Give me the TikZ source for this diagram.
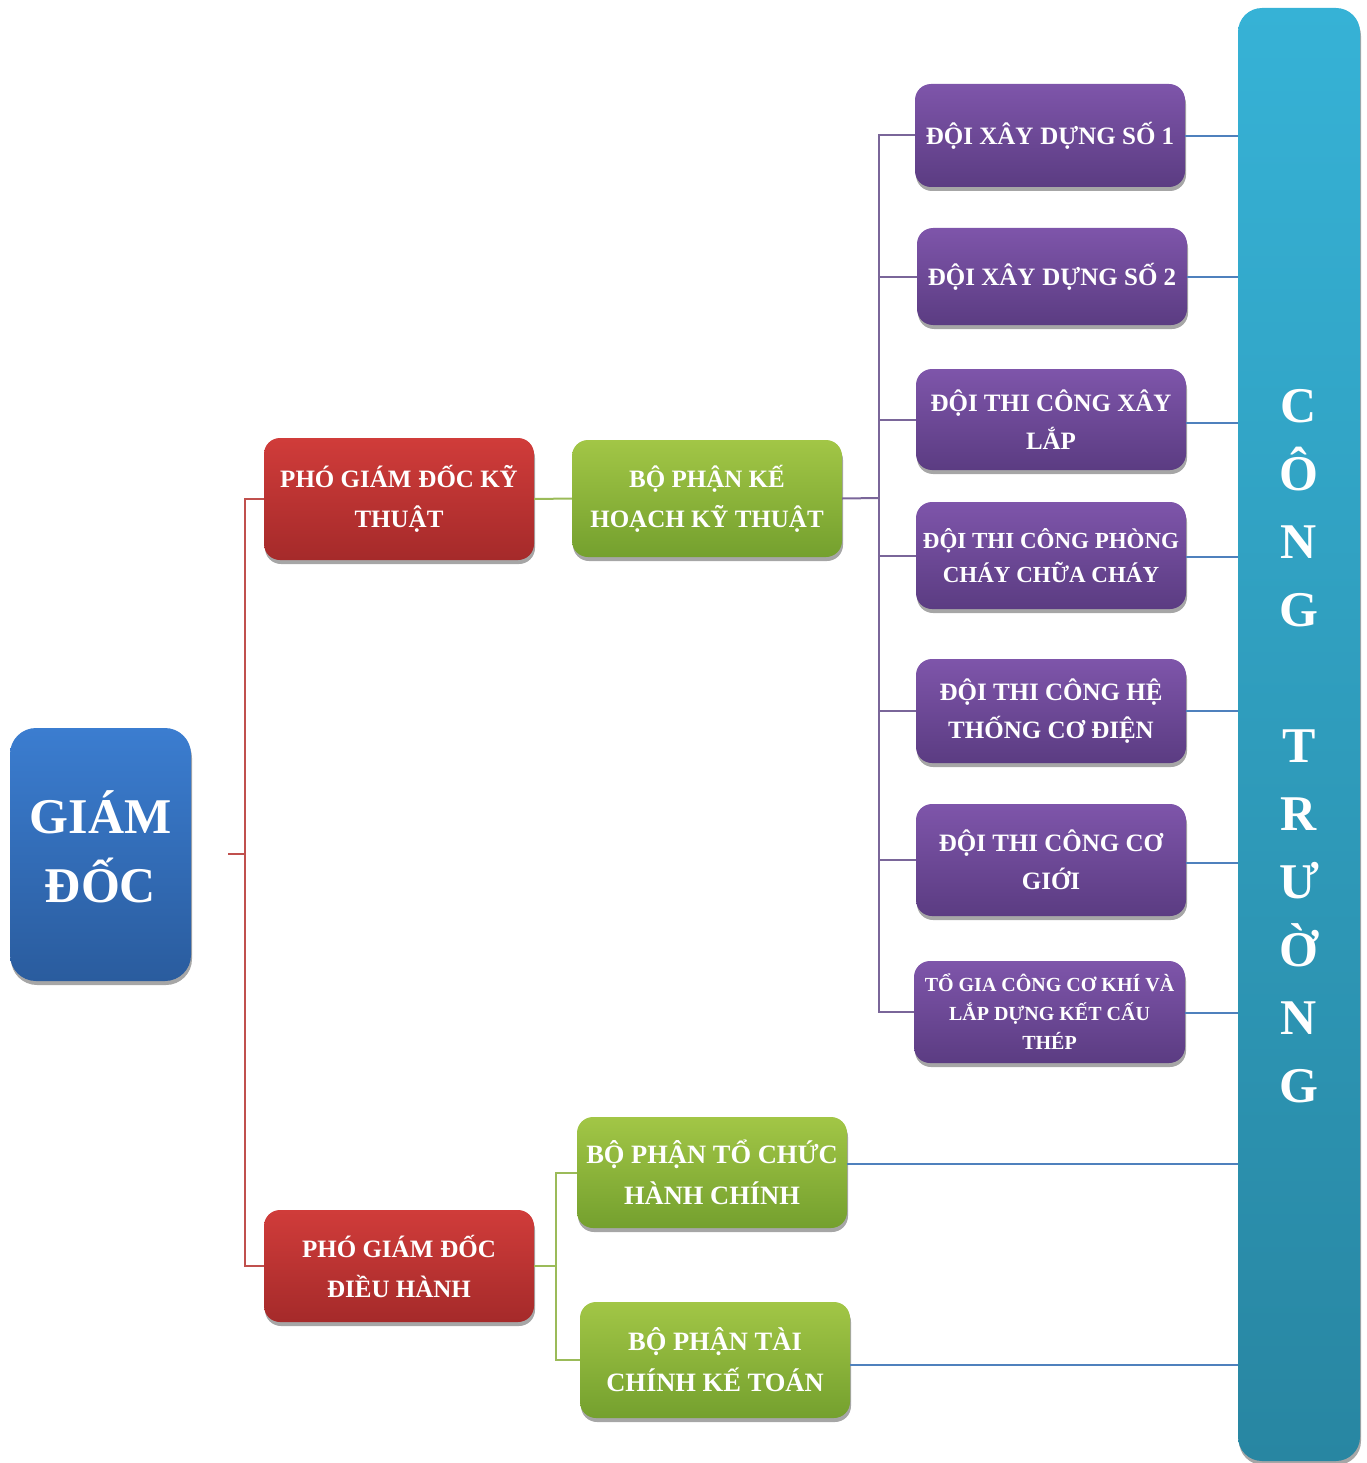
\documentclass[tikz,border=0pt]{standalone}
\usepackage{fontspec}
\setmainfont{Liberation Serif}
\usetikzlibrary{shadows,calc}
\definecolor{gdtop}{HTML}{3B7DD0}
\definecolor{gdbot}{HTML}{2A5C9E}
\definecolor{rtop}{HTML}{D03C3A}
\definecolor{rbot}{HTML}{A52A2A}
\definecolor{gtop}{HTML}{A2C646}
\definecolor{gbot}{HTML}{74A02E}
\definecolor{ptop}{HTML}{7E55AA}
\definecolor{pbot}{HTML}{5B3C82}
\definecolor{ctop}{HTML}{36B2D6}
\definecolor{cbot}{HTML}{2886A2}
\definecolor{redln}{HTML}{C0504D}
\definecolor{grnln}{HTML}{9BBB59}
\definecolor{purln}{HTML}{7A6699}
\definecolor{bluln}{HTML}{4F81BD}
\newcommand{\dsp}{\hspace{7pt}}
\begin{document}
\begin{tikzpicture}[x=1pt,y=-1pt,
  box/.style={rounded corners=16pt, align=center, text=white, inner sep=0pt,
    minimum width=270pt,
    drop shadow={shadow xshift=1pt, shadow yshift=-4pt, opacity=0.35, fill=black},
    font=\bfseries\fontsize{25}{40}\selectfont},
  redbox/.style={box, top color=rtop, bottom color=rbot},
  grnbox/.style={box, top color=gtop, bottom color=gbot},
  purbox/.style={box, top color=ptop, bottom color=pbot, font=\bfseries\fontsize{25}{38}\selectfont},
  conn/.style={line width=2pt},
]
\useasboundingbox (0,0) rectangle (1366,1463);

% main boxes
\node[box, top color=gdtop, bottom color=gdbot, rounded corners=26pt,
      minimum width=181pt, minimum height=253pt,
      font=\bfseries\fontsize{50}{69}\selectfont] (gd) at (100.5,854.5)
      {\raisebox{6pt}{\begin{tabular}{@{}c@{}}GIÁM\\ĐỐC\end{tabular}}};

\node[redbox, minimum height=122pt] (pgdkt) at (399,499) {PHÓ GIÁM\dsp ĐỐC KỸ\\THUẬT};
\node[grnbox, minimum height=117pt] (bpkh) at (707,498.5) {BỘ PHẬN KẾ\\HOẠCH KỸ THUẬT};

\node[purbox, minimum height=103pt] (p1) at (1050,135.5) {ĐỘI XÂY\dsp DỰNG SỐ 1};
\node[purbox, minimum height=97pt] (p2) at (1052,276.5) {ĐỘI XÂY\dsp DỰNG SỐ 2};
\node[purbox, minimum height=101pt] (p3) at (1051,419.5) {ĐỘI THI CÔNG XÂY\\LẮP};
\node[purbox, minimum height=107pt, font=\bfseries\fontsize{23}{34}\selectfont] (p4) at (1051,555.5) {ĐỘI THI CÔNG PHÒNG\\CHÁY CHỮA CHÁY};
\node[purbox, minimum height=104pt] (p5) at (1051,711) {ĐỘI THI CÔNG HỆ\\THỐNG CƠ ĐIỆN};
\node[purbox, minimum height=112pt] (p6) at (1051,860) {ĐỘI THI CÔNG CƠ\\GIỚI};
\node[purbox, minimum height=102pt, minimum width=271pt, font=\bfseries\fontsize{20}{29}\selectfont] (p7) at (1049.5,1012) {TỔ GIA CÔNG CƠ KHÍ VÀ\\LẮP DỰNG KẾT CẤU\\THÉP};

\node[redbox, minimum height=112pt] (pgddh) at (399,1266) {PHÓ GIÁM\dsp ĐỐC\\ĐIỀU HÀNH};
\node[grnbox, minimum height=111pt, font=\bfseries\fontsize{26.5}{41}\selectfont] (bptc) at (712,1172.5) {BỘ PHẬN TỔ CHỨC\\HÀNH CHÍNH};
\node[grnbox, minimum height=116pt, font=\bfseries\fontsize{26.5}{41}\selectfont] (bptk) at (715,1360) {BỘ PHẬN TÀI\\CHÍNH KẾ TOÁN};

\node[box, top color=ctop, bottom color=cbot, rounded corners=24pt,
      minimum width=122pt, minimum height=1453pt,
      font=\bfseries\fontsize{50}{68}\selectfont] (ct) at (1299,734.5)
      {\raisebox{-21pt}[0pt][0pt]{\begin{tabular}{@{}c@{}}C\\Ô\\N\\G\\[68pt]T\\R\\Ư\\Ờ\\N\\G\end{tabular}}};

% red connectors
\coordinate (gdstub) at (228,854);
\coordinate (rt) at (245,854);
\draw[conn, redln] (gdstub) -- (rt);
\draw[conn, redln] (rt) |- (pgdkt.west);
\draw[conn, redln] (rt) |- (pgddh.west);

% green connectors
\draw[conn, grnln] (pgdkt.east) -- (bpkh.west);
\coordinate (gt) at (556,1266);
\draw[conn, grnln] (pgddh.east) -- (gt);
\draw[conn, grnln] (gt) |- (bptc.west);
\draw[conn, grnln] (gt) |- (bptk.west);

% purple tree
\coordinate (pt) at (879,498);
\draw[conn, purln] (bpkh.east) -- (pt);
\foreach \n in {p1,p2,p3,p4,p5,p6,p7}{
  \draw[conn, purln] (pt) |- (\n.west);
}

% blue links to CONG TRUONG
\foreach \n/\s in {p1/-1,p2/0,p3/-3,p4/-1,p5/0,p6/-3,p7/-1,bptc/9,bptk/-5}{
  \draw[conn, bluln] ([yshift=\s pt]\n.east) -- ([yshift=\s pt]\n.east -| ct.west);
}
\end{tikzpicture}
\end{document}
